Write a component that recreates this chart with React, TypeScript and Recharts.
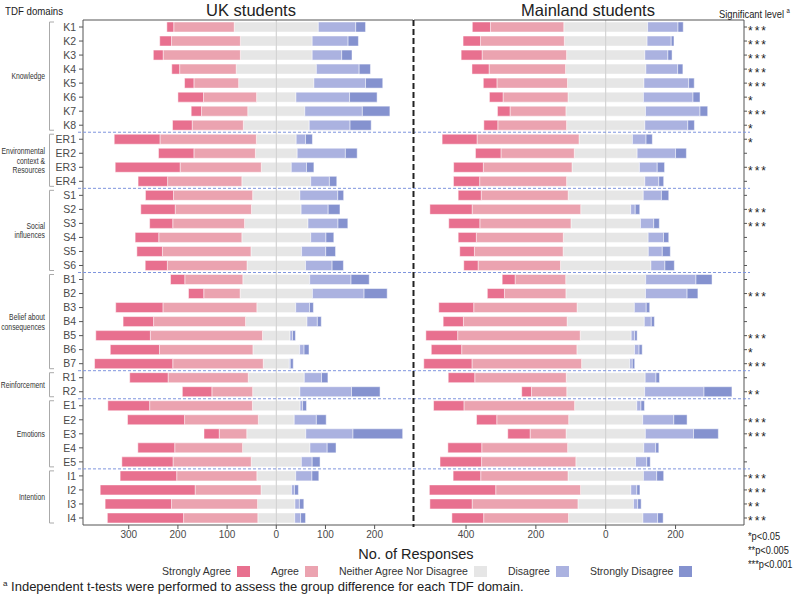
import React from 'react';
import { BarChart, Bar, XAxis, YAxis, ReferenceLine } from 'recharts';

// ---------- data ----------
const items = [
  'K1', 'K2', 'K3', 'K4', 'K5', 'K6', 'K7', 'K8',
  'ER1', 'ER2', 'ER3', 'ER4',
  'S1', 'S2', 'S3', 'S4', 'S5', 'S6',
  'B1', 'B2', 'B3', 'B4', 'B5', 'B6', 'B7',
  'R1', 'R2',
  'E1', 'E2', 'E3', 'E4', 'E5',
  'I1', 'I2', 'I3', 'I4',
];

const groupLabels = [
  ['Knowledge'],
  ['Environmental', 'context &', 'Resources'],
  ['Social', 'influences'],
  ['Belief about', 'consequences'],
  ['Reinforcement'],
  ['Emotions'],
  ['Intention'],
];
const groupSizes = [8, 4, 6, 7, 2, 5, 4];

const significance = [
  '***', '***', '***', '***', '***', '*', '***', '*',
  '*', '', '***', '',
  '', '***', '***', '', '', '',
  '', '***', '', '', '***', '*', '***',
  '', '**',
  '', '***', '***', '', '',
  '***', '***', '**', '***',
];

// UK students
const ukStronglyAgree = [14, 24, 20, 16, 19, 52, 21, 40, 93, 72, 132, 60, 57, 70, 47, 48, 52, 45, 29, 31, 96, 62, 111, 100, 159, 78, 60, 85, 116, 31, 75, 104, 115, 193, 135, 155];
const ukAgree = [123, 140, 157, 115, 91, 108, 94, 104, 196, 125, 165, 151, 161, 155, 146, 169, 180, 162, 118, 74, 191, 187, 228, 190, 184, 163, 83, 209, 150, 56, 138, 159, 163, 134, 175, 151];
const ukNeutral = [171, 146, 146, 163, 153, 80, 116, 134, 81, 85, 61, 140, 96, 101, 129, 140, 103, 119, 136, 147, 79, 125, 56, 95, 53, 114, 96, 97, 73, 120, 137, 102, 79, 62, 76, 75];
const ukDisagree = [76, 73, 60, 87, 105, 109, 117, 83, 19, 98, 31, 38, 77, 55, 61, 31, 49, 54, 84, 105, 28, 21, 5, 9, 2, 35, 105, 5, 45, 96, 35, 22, 33, 6, 9, 12];
const ukStronglyDisagree = [20, 21, 21, 23, 35, 56, 56, 43, 14, 24, 15, 15, 12, 24, 20, 16, 20, 23, 37, 47, 8, 8, 6, 10, 6, 13, 58, 8, 20, 101, 18, 16, 14, 8, 9, 10];

// Mainland students
const mlStronglyAgree = [52, 50, 60, 49, 39, 39, 36, 40, 100, 73, 85, 75, 66, 121, 89, 52, 42, 41, 37, 49, 100, 58, 91, 87, 138, 76, 28, 87, 58, 64, 97, 119, 79, 190, 121, 91];
const mlAgree = [210, 240, 242, 219, 202, 186, 160, 197, 292, 210, 254, 249, 249, 311, 261, 249, 254, 236, 145, 176, 296, 297, 351, 330, 314, 262, 101, 317, 206, 103, 246, 270, 250, 243, 303, 243];
const mlNeutral = [240, 237, 224, 230, 219, 216, 228, 224, 153, 180, 193, 224, 215, 143, 199, 243, 244, 259, 229, 228, 164, 221, 146, 165, 138, 226, 223, 178, 212, 227, 218, 171, 216, 144, 159, 213];
const mlDisagree = [87, 69, 66, 91, 128, 142, 156, 123, 39, 110, 51, 40, 52, 13, 38, 44, 40, 40, 144, 119, 34, 20, 10, 13, 7, 31, 170, 12, 89, 138, 34, 32, 38, 17, 12, 42];
const mlStronglyDisagree = [15, 8, 12, 15, 16, 20, 22, 19, 18, 31, 21, 14, 21, 13, 16, 15, 23, 27, 46, 31, 10, 9, 7, 9, 7, 10, 80, 10, 38, 71, 9, 10, 20, 9, 10, 16];

const categories = ['Strongly Agree', 'Agree', 'Neither Agree Nor Disagree', 'Disagree', 'Strongly Disagree'];
const colors = ['#e8708f', '#eba3b0', '#e6e6e6', '#abb2e0', '#8592cf'];

const ukTicks = [-300, -200, -100, 0, 100, 200];
const mlTicks = [-400, -200, 0, 200];
const ukDomain: [number, number] = [-393, 278];
const mlDomain: [number, number] = [-549, 396];

// ---------- layout ----------
const SANS = "'Liberation Sans', Arial, sans-serif";
const PLOT_TOP = 20;
const PLOT_BOTTOM = 525;
const BAND = (PLOT_BOTTOM - PLOT_TOP) / items.length;
const AXIS_COLOR = '#555';
const TEXT_COLOR = '#4a4a4a';

function buildRows(sa: number[], a: number[], n: number[], d: number[], sd: number[]) {
  return items.map((item, i) => ({
    item,
    nL: -n[i] / 2,
    a: -a[i],
    sa: -sa[i],
    nR: n[i] / 2,
    d: d[i],
    sd: sd[i],
  }));
}

const ukRows = buildRows(ukStronglyAgree, ukAgree, ukNeutral, ukDisagree, ukStronglyDisagree);
const mlRows = buildRows(mlStronglyAgree, mlAgree, mlNeutral, mlDisagree, mlStronglyDisagree);
const sigByItem: Record<string, string> = {};
items.forEach((it, i) => { sigByItem[it] = significance[i]; });

const seriesDefs = [
  { key: 'nL', color: colors[2] },
  { key: 'a', color: colors[1] },
  { key: 'sa', color: colors[0] },
  { key: 'nR', color: colors[2] },
  { key: 'd', color: colors[3] },
  { key: 'sd', color: colors[4] },
];

const absFmt = (v: number) => String(Math.abs(v));

const StarTick = (props: any) => {
  const { x, y, payload } = props;
  return (
    <text x={x} y={y} dy={7.5} fontSize={12} fill="#222" letterSpacing={2} textAnchor="start" fontFamily={SANS}>
      {sigByItem[payload.value] || ''}
    </text>
  );
};

function renderBars() {
  return seriesDefs.map((s) => (
    <Bar
      key={s.key}
      dataKey={s.key}
      stackId="s"
      xAxisId="bottom"
      fill={s.color}
      stroke="#ffffff"
      strokeWidth={0.6}
      strokeOpacity={0.8}
      barSize={10}
      isAnimationActive={false}
    />
  ));
}

const tickStyle = { fontSize: 10, fill: TEXT_COLOR, fontFamily: SANS };

function Overlay() {
  const seps: number[] = [];
  const brackets: { top: number; bottom: number; mid: number; lines: string[] }[] = [];
  let start = 0;
  groupSizes.forEach((size, gi) => {
    const end = start + size;
    brackets.push({
      top: PLOT_TOP + start * BAND + 2,
      bottom: PLOT_TOP + end * BAND - 2,
      mid: PLOT_TOP + (start + end) / 2 * BAND,
      lines: groupLabels[gi],
    });
    if (gi < groupSizes.length - 1) seps.push(PLOT_TOP + end * BAND);
    start = end;
  });
  const lh = 9.5;
  return (
    <svg width={800} height={595} style={{ position: 'absolute', left: 0, top: 0, pointerEvents: 'none' }}>
      {seps.map((y, i) => (
        <line key={'s' + i} x1={78} x2={750} y1={y} y2={y} stroke="#7f95de" strokeWidth={1} strokeDasharray="3 2" />
      ))}
      {brackets.map((b, i) => (
        <g key={'b' + i}>
          <path d={`M54 ${b.top} H49.5 V${b.bottom} H54`} fill="none" stroke="#aaa" strokeWidth={1} />
          <g transform={`translate(45, ${b.mid - ((b.lines.length - 1) / 2) * lh}) scale(0.8, 1)`}>
            <text x={0} y={0} fontSize={8.5} fill="#333" textAnchor="end" fontFamily={SANS} dominantBaseline="central">
              {b.lines.map((l, li) => (
                <tspan key={li} x={0} dy={li === 0 ? 0 : lh}>{l}</tspan>
              ))}
            </text>
          </g>
        </g>
      ))}
      <line x1={413.5} x2={413.5} y1={PLOT_TOP} y2={PLOT_BOTTOM + 2} stroke="#222" strokeWidth={2} strokeDasharray="6 3" />
    </svg>
  );
}

const narrowStyle = (scale: number): React.CSSProperties => ({ transform: `scaleX(${scale})`, transformOrigin: 'left center', display: 'inline-block' });

export default function App() {
  return (
    <div style={{ position: 'absolute', left: 0, top: 0, width: 800, height: 595, background: '#fff', overflow: 'hidden' }}>
      {/* UK chart */}
      <div style={{ position: 'absolute', left: 0, top: 0 }}>
        <BarChart width={413} height={545} data={ukRows} layout="vertical" stackOffset="sign" margin={{ top: 0, right: 0, bottom: 0, left: 0 }}>
          <XAxis xAxisId="top" orientation="top" type="number" domain={ukDomain} ticks={ukTicks} allowDataOverflow height={20} tick={false} tickSize={4} stroke={AXIS_COLOR} />
          <XAxis xAxisId="bottom" orientation="bottom" type="number" domain={ukDomain} ticks={ukTicks} allowDataOverflow height={20} tickFormatter={absFmt} tick={tickStyle} tickSize={4} tickMargin={2} stroke={AXIS_COLOR} />
          <YAxis type="category" dataKey="item" width={83} interval={0} tickSize={4} tickMargin={3} tick={{ ...tickStyle, fontSize: 10.5 }} stroke={AXIS_COLOR} />
          <ReferenceLine xAxisId="bottom" x={0} stroke="#cccccc" strokeWidth={1} />
          {renderBars()}
        </BarChart>
      </div>
      {/* Mainland chart */}
      <div style={{ position: 'absolute', left: 414, top: 0 }}>
        <BarChart width={386} height={545} data={mlRows} layout="vertical" stackOffset="sign" margin={{ top: 0, right: 0, bottom: 0, left: 0 }}>
          <XAxis xAxisId="top" orientation="top" type="number" domain={mlDomain} ticks={mlTicks} allowDataOverflow height={20} tick={false} tickSize={4} stroke={AXIS_COLOR} />
          <XAxis xAxisId="bottom" orientation="bottom" type="number" domain={mlDomain} ticks={mlTicks} allowDataOverflow height={20} tickFormatter={absFmt} tick={tickStyle} tickSize={4} tickMargin={2} stroke={AXIS_COLOR} />
          <YAxis type="category" dataKey="item" orientation="right" width={56} interval={0} tickSize={3} tickMargin={1} tick={<StarTick />} stroke={AXIS_COLOR} />
          <ReferenceLine xAxisId="bottom" x={0} stroke="#cccccc" strokeWidth={1} />
          {renderBars()}
        </BarChart>
      </div>

      <Overlay />

      {/* Titles */}
      <div style={{ position: 'absolute', left: 5, top: 4, fontFamily: SANS, fontSize: 11, color: '#222', lineHeight: '14px', whiteSpace: 'nowrap' }}>
        <span style={narrowStyle(0.88)}>TDF domains</span>
      </div>
      <div style={{ position: 'absolute', left: 251, top: 0, transform: 'translateX(-50%)', fontFamily: SANS, fontSize: 16.5, color: '#222', lineHeight: '20px', whiteSpace: 'nowrap' }}>UK students</div>
      <div style={{ position: 'absolute', left: 588, top: 0, transform: 'translateX(-50%)', fontFamily: SANS, fontSize: 16.5, color: '#222', lineHeight: '20px', whiteSpace: 'nowrap' }}>Mainland students</div>
      <div style={{ position: 'absolute', left: 719, top: 4, fontFamily: SANS, fontSize: 11, color: '#222', lineHeight: '14px', whiteSpace: 'nowrap' }}>
        <span style={narrowStyle(0.85)}>Significant level <sup style={{ fontSize: 7 }}>a</sup></span>
      </div>

      {/* p-value notes */}
      <div style={{ position: 'absolute', left: 748, top: 529, fontFamily: SANS, fontSize: 11, color: '#222', lineHeight: '14px', whiteSpace: 'nowrap' }}>
        <div><span style={narrowStyle(0.84)}>*p&lt;0.05</span></div>
        <div><span style={narrowStyle(0.84)}>**p&lt;0.005</span></div>
        <div><span style={narrowStyle(0.84)}>***p&lt;0.001</span></div>
      </div>

      {/* x axis title */}
      <div style={{ position: 'absolute', left: 416, top: 545, transform: 'translateX(-50%)', fontFamily: SANS, fontSize: 14.5, color: '#222', lineHeight: '18px', whiteSpace: 'nowrap' }}>No. of Responses</div>

      {/* legend */}
      <div style={{ position: 'absolute', left: 162, top: 565, display: 'flex', alignItems: 'center', fontFamily: SANS, fontSize: 10.5, color: '#333', whiteSpace: 'nowrap' }}>
        {categories.map((c, i) => (
          <div key={c} style={{ display: 'flex', alignItems: 'center', marginRight: 21 }}>
            <span>{c}</span>
            <span style={{ display: 'inline-block', width: 13, height: 11, background: colors[i], marginLeft: 6 }} />
          </div>
        ))}
      </div>

      {/* footnote */}
      <div style={{ position: 'absolute', left: 3, top: 576, fontFamily: SANS, fontSize: 13, color: '#222', lineHeight: '16px', whiteSpace: 'nowrap' }}>
        <sup style={{ fontSize: 8 }}>a</sup> Independent t-tests were performed to assess the group difference for each TDF domain.
      </div>
    </div>
  );
}
